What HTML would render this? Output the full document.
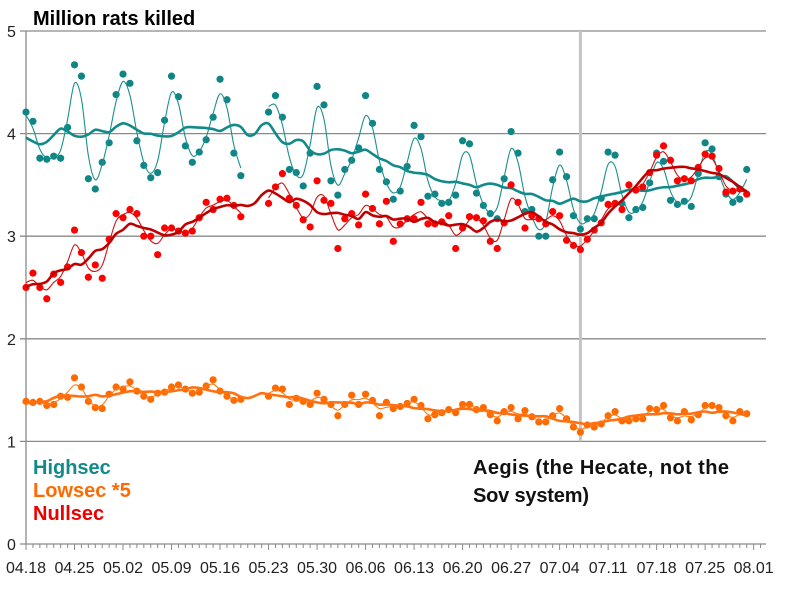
<!DOCTYPE html>
<html><head><meta charset="utf-8"><style>
body{margin:0;background:#fff}
svg{display:block;font-family:"Liberation Sans",sans-serif}
</style></head><body>
<svg id="c" width="800" height="590">
<text x="33" y="25" font-size="20" font-weight="bold" fill="#000">Million rats killed</text>
<g id="grid"></g><g id="series"></g>
<g font-size="20" font-weight="bold">
<text x="33" y="474" fill="#138a8a">Highsec</text>
<text x="33" y="497" fill="#ff6a00">Lowsec *5</text>
<text x="33" y="520" fill="#ee0000">Nullsec</text>
</g>
<g font-size="20" font-weight="bold" fill="#111">
<text x="473" y="474" textLength="256">Aegis (the Hecate, not the</text>
<text x="473" y="502" textLength="116">Sov system)</text>
</g>
</svg>
<script>
const xLabels=["04.18","04.25","05.02","05.09","05.16","05.23","05.30","06.06","06.13","06.20","06.27","07.04","07.11","07.18","07.25","08.01"];
const yTicks=[0,1,2,3,4,5];
const aegisDay=80;
const highsec=[4.21,4.12,3.76,3.75,3.78,3.76,4.06,4.67,4.56,3.56,3.46,3.72,3.91,4.38,4.58,4.49,3.93,3.69,3.57,3.62,4.13,4.56,4.36,3.88,3.72,3.82,3.94,4.16,4.53,4.33,3.81,3.59,null,null,null,4.21,4.37,4.16,3.65,3.62,3.49,3.81,4.46,4.28,3.54,3.40,3.65,3.74,3.86,4.37,4.10,3.65,3.53,3.36,3.44,3.68,4.08,3.97,3.39,3.41,3.32,3.33,3.40,3.93,3.90,3.42,3.30,3.22,3.17,3.56,4.02,3.81,3.24,3.26,3.00,3.00,3.55,3.82,3.58,3.20,3.07,3.17,3.17,3.37,3.82,3.79,3.32,3.18,3.26,3.28,3.52,3.81,3.73,3.35,3.31,3.34,3.29,3.61,3.91,3.85,3.58,3.41,3.33,3.36,3.65];
const nullsec=[2.50,2.64,2.50,2.39,2.63,2.55,2.70,3.06,2.84,2.60,2.72,2.59,2.97,3.22,3.18,3.26,3.22,3.00,3.00,2.82,3.08,3.08,3.05,3.03,3.05,3.18,3.33,3.26,3.36,3.37,3.30,3.19,null,null,null,3.32,3.48,3.61,3.37,3.30,3.16,3.09,3.54,3.35,3.32,2.88,3.17,3.22,3.11,3.41,3.27,3.12,3.34,2.95,3.12,3.17,3.17,3.33,3.12,3.12,3.14,3.20,2.88,3.08,3.19,3.18,3.15,2.95,2.88,3.13,3.50,3.33,3.08,3.20,3.17,3.12,3.24,3.20,2.96,2.91,2.87,2.97,3.06,3.13,3.31,3.32,3.26,3.50,3.45,3.48,3.62,3.79,3.88,3.74,3.54,3.56,3.54,3.67,3.80,3.78,3.66,3.43,3.44,3.46,3.41];
const lowsec=[1.39,1.38,1.39,1.35,1.36,1.44,1.43,1.62,1.53,1.39,1.33,1.32,1.46,1.53,1.51,1.58,1.49,1.44,1.41,1.47,1.48,1.53,1.55,1.51,1.47,1.48,1.54,1.60,1.49,1.44,1.40,1.41,null,null,null,1.44,1.52,1.51,1.36,1.42,1.39,1.36,1.47,1.41,1.36,1.25,1.36,1.45,1.36,1.46,1.40,1.25,1.38,1.32,1.34,1.37,1.41,1.35,1.22,1.26,1.28,1.31,1.28,1.36,1.36,1.31,1.33,1.26,1.20,1.29,1.33,1.22,1.30,1.24,1.19,1.19,1.25,1.32,1.22,1.14,1.09,1.16,1.14,1.17,1.25,1.29,1.20,1.20,1.22,1.22,1.32,1.31,1.35,1.23,1.20,1.29,1.21,1.26,1.35,1.35,1.33,1.25,1.20,1.29,1.27];
const NS='http://www.w3.org/2000/svg';
const x0=26,dayW=6.93,y0=544,unit=102.6;
function xs(d){return x0+d*dayW;}
function ys(v){return y0-v*unit;}
function mk(t,a,p){const e=document.createElementNS(NS,t);for(const k in a)e.setAttribute(k,a[k]);p.appendChild(e);return e;}
const grid=document.getElementById('grid'),ser=document.getElementById('series');
yTicks.forEach(v=>{
  if(v>0){const g=mk('line',{x1:20,x2:766,y1:ys(v),y2:ys(v),stroke:'#8a8a8a','stroke-width':1.3},grid);
  
  }
  const t=mk('text',{x:7,y:ys(v)+6,'font-size':16,fill:'#222'},grid);t.textContent=v;
  
  
});
const ax=mk('line',{x1:26,x2:26,y1:ys(5),y2:y0,stroke:'#8a8a8a','stroke-width':1.3},grid);


const bx=mk('line',{x1:20,x2:766,y1:y0,y2:y0,stroke:'#8a8a8a','stroke-width':1.3},grid);


for(let d=0;d<=106;d++){mk('line',{x1:xs(d),x2:xs(d),y1:y0,y2:y0+(d%7==0?6:4),stroke:'#8a8a8a','stroke-width':1},grid);}
xLabels.forEach((l,i)=>{const t=mk('text',{x:xs(i*7),y:573,'font-size':16,fill:'#222','text-anchor':'middle'},grid);t.textContent=l;
  
  });
const av=mk('line',{x1:xs(aegisDay),x2:xs(aegisDay),y1:ys(5),y2:ys(1),stroke:'#c4c4c4','stroke-width':3},grid);


function ma(arr,w){return arr.map((v,i)=>{let s=0,n=0;for(let j=i-Math.floor(w/2);j<=i+Math.floor(w/2);j++){if(j>=0&&j<arr.length&&arr[j]!=null){s+=arr[j];n++;}}return n?s/n:null;});}
function smooth(arr){return arr.map((v,i)=>{if(v==null)return null;let s=2*v,n=2;[i-1,i+1].forEach(j=>{if(j>=0&&j<arr.length&&arr[j]!=null){s+=arr[j];n++;}});return s/n;});}
function spline(pts){let d='';let seg=[];const segs=[];pts.forEach(p=>{if(p[1]==null){if(seg.length)segs.push(seg);seg=[];}else seg.push(p);});if(seg.length)segs.push(seg);
 segs.forEach(s=>{d+='M'+s[0][0]+','+s[0][1];for(let i=0;i<s.length-1;i++){const p0=s[Math.max(0,i-1)],p1=s[i],p2=s[i+1],p3=s[Math.min(s.length-1,i+2)];
 const c1=[p1[0]+(p2[0]-p0[0])/6,p1[1]+(p2[1]-p0[1])/6],c2=[p2[0]-(p3[0]-p1[0])/6,p2[1]-(p3[1]-p1[1])/6];
 d+='C'+c1[0]+','+c1[1]+' '+c2[0]+','+c2[1]+' '+p2[0]+','+p2[1];}});return d;}
function draw(arr,name,dot,thin,thick){
  const g=mk('g',{},ser);
  
  
  arr.forEach((v,i)=>{if(v==null)return;const c=mk('circle',{cx:xs(i),cy:ys(v),r:3.6,fill:dot},g);
    
    });
  const t=smooth(arr);
  const p1=mk('path',{d:spline(t.map((v,i)=>[xs(i),v==null?null:ys(v)])),fill:'none',stroke:thin,'stroke-width':1.1},g);
  
  
  const m=ma(arr,7);
  const p2=mk('path',{d:spline(m.map((v,i)=>[xs(i),v==null?null:ys(v)])),fill:'none',stroke:thick,'stroke-width':2.6},g);
  
  
}
draw(highsec,'highsec','#0f8585','#1a8f8f','#138a8a');
draw(lowsec,'lowsec','#ff6a00','#ff7a10','#ff7010');
draw(nullsec,'nullsec','#ff0000','#d01010','#c00000');
</script>
</body></html>
